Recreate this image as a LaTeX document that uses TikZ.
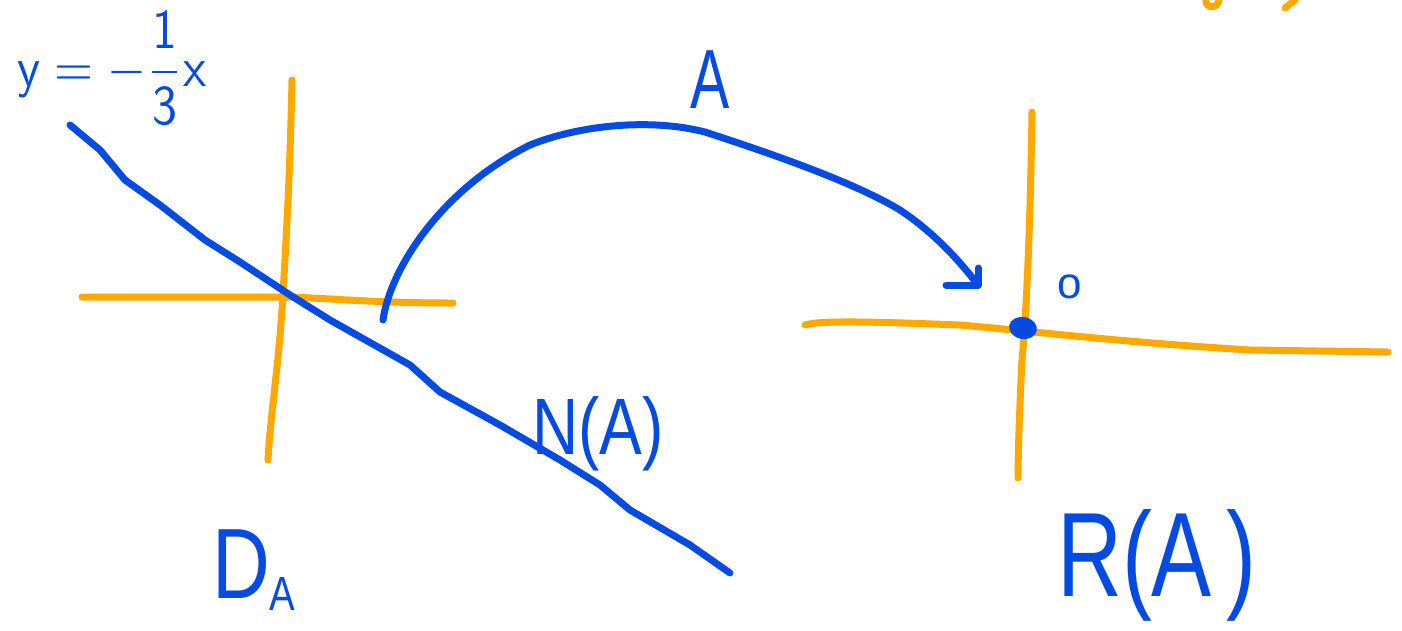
\documentclass[tikz,border=0pt]{standalone}
\usepackage{fontspec}
\setmainfont{Liberation Sans}
\usetikzlibrary{shapes.geometric}
\definecolor{pen}{RGB}{5,75,225}
\definecolor{hl}{RGB}{255,168,0}
\tikzset{
  bluepen/.style={draw=pen, line width=7pt, line cap=round, line join=round},
  orpen/.style={draw=hl, line width=7pt, line cap=round, line join=round},
  lbl/.style={text=pen, font=\fontsize{64}{64}\selectfont, inner sep=0pt}
}
\begin{document}
\begin{tikzpicture}[x=1pt,y=-1pt]
\useasboundingbox (0,0) rectangle (1402,630);
% left axes
\draw[orpen] (82,297) -- (290,297) .. controls (340,299) and (380,303) .. (453,303);
\draw[orpen] (292,80) .. controls (290,180) and (285,260) .. (282,310) .. controls (278,370) and (270,420) .. (268,460);
% right axes
\draw[orpen] (805,325) .. controls (820,320) and (880,322) .. (960,325) .. controls (1040,332) and (1120,342) .. (1250,350) -- (1388,352);
\draw[orpen] (1032,112) .. controls (1030,250) and (1025,330) .. (1022,360) .. controls (1020,400) and (1018,450) .. (1018,478);
% top right partial marks
\draw[orpen] (1206,0) .. controls (1205,8) and (1217,10) .. (1219,0);
\draw[orpen] (1295,0) -- (1285,8);
% line y = -x/3
\coordinate (l0) at (70,125);
\coordinate (l1) at (730,573);
\draw[bluepen] (l0) -- (100,150) -- (125,180) -- (160,205) -- (205,240) -- (240,262) -- (290,295) -- (330,320) -- (410,365) -- (440,392) -- (500,425) -- (560,460) -- (600,485) -- (630,510) -- (690,545) -- (l1);
% mapping arc
\coordinate (a0) at (383,320);
\coordinate (a1) at (978,285);
\draw[bluepen] (a0) .. controls (390,270) and (440,190) .. (530,145) .. controls (580,125) and (650,118) .. (705,132) .. controls (760,150) and (850,180) .. (900,210) .. controls (930,230) and (955,255) .. (a1);
\draw[bluepen] (946,285) -- (a1) -- (978,268);
% origin dot
\node[fill=pen, ellipse, minimum width=28pt, minimum height=22pt, inner sep=0pt, rotate=-10] (orig) at (1023,328) {};
% labels
\node[lbl, font=\fontsize{84}{84}\selectfont, xscale=0.7] (A) at (710,80) {A};
\node[lbl, font=\fontsize{44}{44}\selectfont] (O) at (1070,287) {o};
\node[lbl, font=\fontsize{80}{80}\selectfont, xscale=0.8] (NA) at (598,434) {N(A)};
\node[lbl, font=\fontsize{100}{100}\selectfont, anchor=base west, xscale=0.8] (DA) at (212,598) {D\raisebox{-12pt}{\fontsize{48}{48}\selectfont A}};
\node[lbl, font=\fontsize{120}{120}\selectfont, xscale=0.75] (RA) at (1157,565) {R(A\,)};
\node[lbl, font=\normalsize, xscale=5, yscale=5.6] (eq) at (112,68) {$\displaystyle\mathsf{y}=-\frac{\mathsf{1}}{\mathsf{3}}\mathsf{x}$};
\end{tikzpicture}
\end{document}
